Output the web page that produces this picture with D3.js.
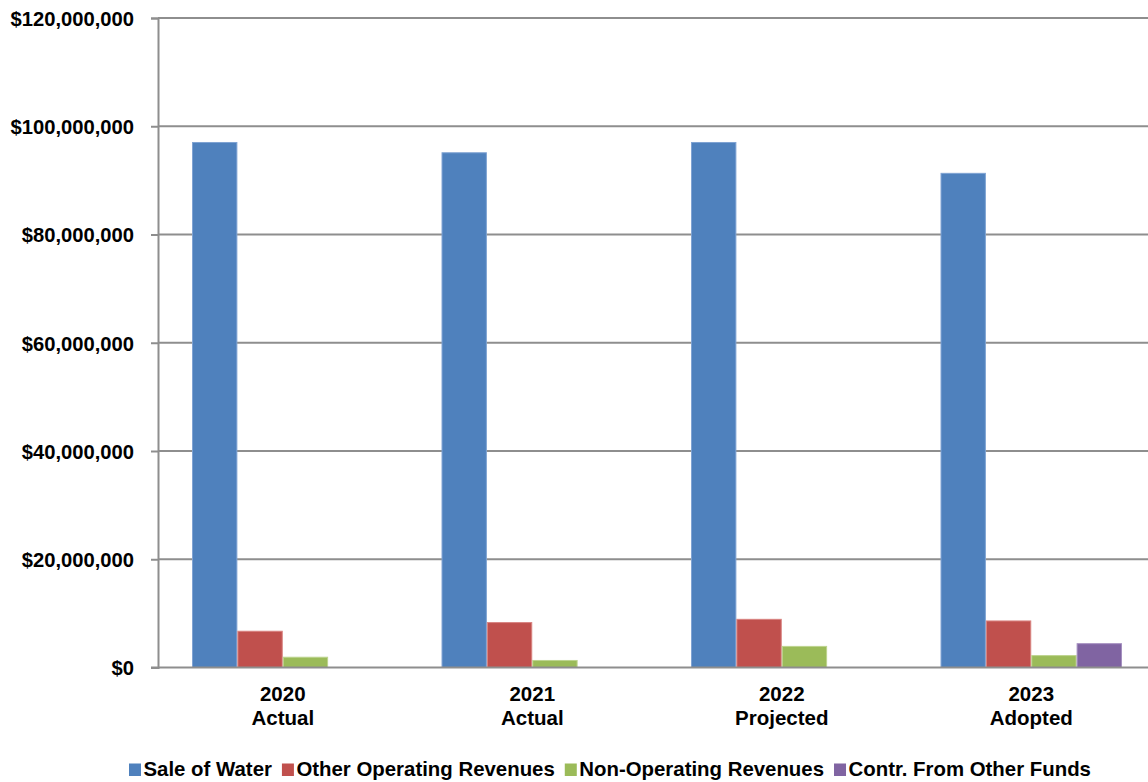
<!DOCTYPE html>
<html>
<head>
<meta charset="utf-8">
<script src="https://cdn.jsdelivr.net/npm/d3@7/dist/d3.min.js"></script>
<style>
  html, body { margin: 0; padding: 0; background: #fff; }
  svg { display: block; }
  text { font-family: "Liberation Sans", Arial, sans-serif; font-weight: bold; fill: #000; }
</style>
</head>
<body>
<svg id="chart" width="1148" height="782"></svg>
<script>
// Water fund revenues by fiscal year
const years = ["2020", "2021", "2022", "2023"];
const yearNotes = ["Actual", "Actual", "Projected", "Adopted"];
const seriesNames = ["Sale of Water", "Other Operating Revenues", "Non-Operating Revenues", "Contr. From Other Funds"];
const saleOfWater = [97000000, 95100000, 97000000, 91300000];
const otherOperating = [6700000, 8300000, 8900000, 8600000];
const nonOperating = [1900000, 1300000, 3900000, 2200000];
const contrOtherFunds = [0, 0, 0, 4400000];
const yTicks = [0, 20000000, 40000000, 60000000, 80000000, 100000000, 120000000];
const colors = ["#4F81BD", "#C0504D", "#9BBB59", "#8064A2"];
const edgeColors = ["#7FA3D3", "#D98380", "#BDD48E", "#A58FC0"];

const seriesValues = [saleOfWater, otherOperating, nonOperating, contrOtherFunds];

const svg = d3.select("#chart");
const plotLeft = 158, plotRight = 1156, plotTop = 18, plotBottom = 667.5;

const x = d3.scaleBand().domain(years).range([plotLeft, plotRight]).paddingInner(0).paddingOuter(0);
// 150% gap between category groups
const inner = d3.scaleBand().domain(d3.range(seriesNames.length))
  .range([0, x.bandwidth()]).paddingInner(0).paddingOuter(0.75);
const y = d3.scaleLinear().domain([0, 120000000]).range([plotBottom, plotTop]);

// horizontal gridlines
svg.append("g").selectAll("line")
  .data(yTicks.filter(d => d > 0))
  .join("line")
  .attr("x1", plotLeft).attr("x2", plotRight)
  .attr("y1", d => y(d)).attr("y2", d => y(d))
  .attr("stroke", "#8E8E8E").attr("stroke-width", 2);

// bars
const groups = svg.append("g").selectAll("g")
  .data(years)
  .join("g")
  .attr("transform", d => `translate(${x(d)},0)`);

groups.selectAll("rect")
  .data((d, i) => seriesValues.map((vals, s) => ({ s, v: vals[i] })).filter(e => e.v > 0))
  .join("rect")
  .attr("x", d => inner(d.s) + 0.5)
  .attr("width", inner.bandwidth() - 1)
  .attr("y", d => y(d.v))
  .attr("height", d => y(0) - y(d.v))
  .attr("fill", d => colors[d.s])
  .attr("stroke", d => edgeColors[d.s])
  .attr("stroke-width", 1);

// y axis
const yAxis = d3.axisLeft(y)
  .tickValues(yTicks)
  .tickSize(7)
  .tickPadding(17)
  .tickFormat(d => "$" + d3.format(",")(d));

const yg = svg.append("g")
  .attr("transform", `translate(${plotLeft},0)`)
  .call(yAxis);
yg.select(".domain").attr("stroke", "#8E8E8E").attr("stroke-width", 2);
yg.selectAll(".tick line").attr("stroke", "#8E8E8E").attr("stroke-width", 2);
yg.selectAll(".tick text")
  .attr("font-size", 20.2)
  .attr("font-family", "Liberation Sans, Arial, sans-serif")
  .attr("font-weight", "bold")
  .attr("fill", "#000")
  .attr("dy", "0.36em");

// baseline
svg.append("line")
  .attr("x1", plotLeft - 7).attr("x2", plotRight)
  .attr("y1", y(0)).attr("y2", y(0))
  .attr("stroke", "#8E8E8E").attr("stroke-width", 2);

// category labels
const cat = svg.append("g").selectAll("text")
  .data(years)
  .join("text")
  .attr("x", d => x(d) + x.bandwidth() / 2)
  .attr("text-anchor", "middle")
  .attr("font-size", 20.5);
cat.append("tspan")
  .attr("x", d => x(d) + x.bandwidth() / 2)
  .attr("y", 700.5)
  .text(d => d);
cat.append("tspan")
  .attr("x", d => x(d) + x.bandwidth() / 2)
  .attr("y", 724.5)
  .text((d, i) => yearNotes[i]);

// legend
const legend = svg.append("g").attr("transform", "translate(129,776)");
let lx = 0;
seriesNames.forEach((name, i) => {
  const item = legend.append("g").attr("transform", `translate(${lx},0)`);
  item.append("rect")
    .attr("x", 0).attr("y", -12.5)
    .attr("width", 12).attr("height", 12.5)
    .attr("fill", colors[i]);
  const t = item.append("text")
    .attr("x", 14.5).attr("y", 0)
    .attr("font-size", 20.4)
    .text(name);
  lx += 14.5 + t.node().getComputedTextLength() + 10;
});
</script>
</body>
</html>
